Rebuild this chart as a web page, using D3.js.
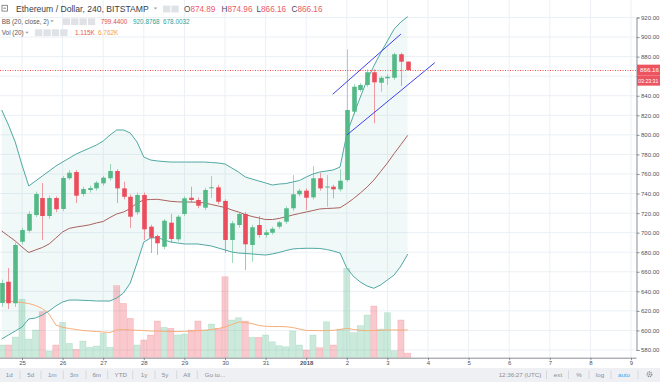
<!DOCTYPE html>
<html><head><meta charset="utf-8">
<script src="https://cdn.jsdelivr.net/npm/d3@7"></script>
<style>
html,body{margin:0;padding:0;background:#fff;overflow:hidden}
svg{display:block}
text{font-family:"Liberation Sans",Arial,sans-serif}
</style></head><body>
<svg id="c" width="660" height="382"></svg>
<script>
// ---- data (4h candles, ETH/USD Bitstamp) ----
const startTime = Date.UTC(2017, 11, 24, 12); // first visible candle
const stepHours = 4;
const open  = [628.1,649.8,627.8,690.7,702.0,718.0,735.4,717.0,735.4,724.2,755.6,762.0,739.5,743.6,745.3,750.4,755.6,763.0,745.3,736.7,720.8,738.5,706.1,696.6,685.6,710.2,693.2,719.1,735.7,733.4,725.5,745.9,746.3,732.4,692.5,707.8,719.1,687.4,707.8,697.6,699.9,706.1,711.2,724.9,739.2,742.9,736.1,755.6,747.0,747.0,744.3,753.8,823.7,845.9,851.0,864.0,853.3,857.8,858.4,882.4,874.89];
const high  = [652,663.8,690,705,722,742,750.8,738,737,758,764,764,747,748,753,758,770.2,765,752.1,739,741,741,708,698,714,719.1,718,737,747,736,746,757.9,749,734,712,721,721,708,717,703,706,712,727,758.9,745,745,768.1,761,758.9,749,764.8,887.5,852,853,867,867,860,862,884,884,874.96];
const low   = [624,622,624,688,700,716,692.5,714,721,722,754,730.3,737,741,743,748,753,730.3,734,704.7,718,692.5,679.2,677.1,683,690,691,717,731,725,723,735.4,729,679.2,669.0,705,661.8,670.3,695,695,698,704,709,722,737,723.2,734,743,726.5,735,742,752,821,844,849,811.8,844.1,851,856,849.9,866.16];
const close = [648.5,627.8,687.4,702.7,719.1,739.5,717.0,735.4,723.9,755.9,761.3,737.8,744.6,745.6,751.1,756.2,763.0,745.3,736.7,716.3,738.5,703.4,694.8,689.1,712.2,693.5,716.3,735.1,733.4,727.5,743.6,746.4,731.6,692.5,709.6,719.1,688.1,705.5,697.6,700.3,704.0,710.6,724.9,739.2,742.9,735.7,755.6,745.3,747.2,744.3,753.1,825.4,849.2,851.0,864.0,853.7,858.4,859.4,882.4,874.8,866.16];
const volume = [3.1,3.1,5.05,14.25,4.56,6.76,11.22,1.63,3.1,8.64,3.51,2.05,4.07,2.54,2.85,5.95,2.54,17.57,13.27,9.61,3.1,4.32,5.54,8.95,7.42,7.17,5.54,5.78,6.76,8.95,6.76,8.22,7.17,19.76,9.20,9.76,8.95,4.98,4.98,5.54,3.90,2.93,2.68,6.51,3.1,1.88,5.54,2.44,8.78,3.1,7.0,21.81,6.1,7.81,10.42,12.61,7.0,10.98,1.71,9.20,1.115];
const volMA = [14.08,13.83,13.59,13.47,13.22,12.74,12.0,10.66,7.98,7.42,7.12,6.88,6.64,6.51,6.39,6.27,6.15,6.76,6.88,6.76,6.69,6.64,6.51,6.51,6.44,6.39,6.39,6.44,6.51,6.59,6.69,6.88,7.12,7.49,8.10,8.71,8.59,8.34,7.86,7.66,7.61,7.61,7.56,7.37,7.0,6.64,6.64,6.59,6.64,6.69,6.88,7.17,6.88,6.69,6.59,6.64,6.69,6.76,6.76,6.76,6.762];
const bbUpper = [825.4,810.1,792.7,769.2,747.7,752.8,757.9,763.0,768.1,772.2,776.3,780.4,783.5,786.5,789.6,793.7,799.8,805.0,805.0,801.9,792.7,777.3,774.3,773.3,772.7,772.2,772.2,772.2,772.2,772.2,772.2,771.7,771.2,770.2,766.1,762.0,756.9,754.8,752.8,750.8,748.7,749.7,750.2,751.8,753.3,756.9,760.0,762.0,763.0,764.1,767.1,800.9,820.3,838.7,856.1,870.4,883.7,896.0,908.2,915.4,920.8768];
const bbBasis = [701.7,696.6,691.5,685.3,679.7,682.3,684.8,688.4,694.5,700.7,704.4,705.8,706.8,708.0,709.9,711.4,715.5,719.1,721.1,724.7,730.3,733.4,733.9,734.1,733.1,732.0,731.5,731.3,731.3,731.0,730.3,728.8,727.2,725.7,723.2,721.1,718.5,716.5,715.0,713.4,713.4,714.5,716.2,718.0,719.6,721.1,722.6,724.2,724.7,725.0,725.5,729.8,734.9,740.5,746.7,753.8,762.5,771.2,780.9,790.1,799.44];
const bbLower = [591.2,595.3,599.4,603.5,611.7,612.7,615.8,619.9,625.0,629.1,631.1,631.1,630.8,630.6,630.1,630.1,630.1,633.2,638.3,648.5,669.0,690.4,694.5,695.0,692.5,690.4,689.4,688.4,688.4,688.4,687.4,686.3,684.3,682.3,680.2,679.2,678.7,678.2,677.6,677.1,678.2,679.7,681.7,683.3,683.8,684.0,684.0,683.8,682.8,681.2,679.2,663.8,655.2,649.5,645.4,643.1,646.5,651.6,656.7,665.9,678.0032];
// drawn trend lines: [time, price] end points
const trendA = [[Date.UTC(2018,0,1,15,40), 841.5], [Date.UTC(2018,0,3,8), 903.1]];
const trendB = [[Date.UTC(2018,0,2,0), 799.8], [Date.UTC(2018,0,4,4), 873.8]];
const priceTicks = [580,600,620,640,660,680,700,720,740,760,780,800,820,840,860,880,900,920];
const lastPrice = 866.16;
const countdown = "03:23:31";
const toolbarLeft = ["1d","5d","1m","3m","6m","YTD","1y","5y","All","Go to..."];

// ---- layout ----
const svg = d3.select("#c");
const plotR = 636, plotB = 357.7;
const x = d3.scaleUtc().domain([new Date(Date.UTC(2017,11,25)), new Date(Date.UTC(2018,0,9))]).range([22, 631]);
const y = d3.scaleLinear().domain([580, 920]).range([350, 17.5]);
const yv = d3.scaleLinear().domain([0, 25]).range([plotB, plotB - 25/0.244]);
const times = open.map((_, i) => new Date(startTime + i*stepHours*3600e3));
const step = x(new Date(startTime + stepHours*3600e3)) - x(new Date(startTime));

svg.append("rect").attr("width",660).attr("height",382).attr("fill","#fff");
svg.append("defs").append("clipPath").attr("id","plot").append("rect")
  .attr("x",0).attr("y",0).attr("width",plotR).attr("height",plotB);
const g = svg.append("g").attr("clip-path","url(#plot)");

// grid
const dayTicks = x.ticks(d3.utcDay.every(1));
g.selectAll(".hg").data(priceTicks).join("line")
  .attr("x1",0).attr("x2",plotR).attr("y1",d=>y(d)).attr("y2",d=>y(d))
  .attr("stroke","#ebf0f5").attr("stroke-width",1);
g.selectAll(".vg").data(dayTicks).join("line")
  .attr("x1",d=>x(d)).attr("x2",d=>x(d)).attr("y1",0).attr("y2",plotB)
  .attr("stroke","#ebf0f5").attr("stroke-width",1);

// BB fill
const idx = d3.range(open.length);
g.append("path").datum(idx)
  .attr("d", d3.area().x(i=>x(times[i])).y0(i=>y(bbLower[i])).y1(i=>y(bbUpper[i])))
  .attr("fill","rgba(38,166,154,0.065)");

// volume
g.selectAll(".vb").data(idx).join("rect")
  .attr("x", i=>x(times[i]) - step/2 + 0.3)
  .attr("width", step - 0.6)
  .attr("y", i=>yv(volume[i]))
  .attr("height", i=>plotB - yv(volume[i]))
  .attr("fill", i=>close[i]>=open[i] ? "rgba(83,185,135,0.30)" : "rgba(235,77,92,0.30)")
  .attr("stroke", i=>close[i]>=open[i] ? "rgba(83,185,135,0.25)" : "rgba(235,77,92,0.25)")
  .attr("stroke-width",0.6);
g.append("path").datum(idx)
  .attr("d", d3.line().x(i=>x(times[i])).y(i=>yv(volMA[i])))
  .attr("fill","none").attr("stroke","#f7ae78").attr("stroke-width",1);

// BB lines
[[bbUpper,"#4fa8a3"],[bbLower,"#4fa8a3"],[bbBasis,"#a8625e"]].forEach(([arr,col])=>{
  g.append("path").datum(idx)
    .attr("d", d3.line().x(i=>x(times[i])).y(i=>y(arr[i])))
    .attr("fill","none").attr("stroke",col).attr("stroke-width",1);
});

// candles
const up="#53b987", dn="#eb4d5c";
g.selectAll(".wk").data(idx).join("line")
  .attr("x1",i=>Math.round(x(times[i]))+0.5).attr("x2",i=>Math.round(x(times[i]))+0.5)
  .attr("y1",i=>y(high[i])).attr("y2",i=>y(low[i]))
  .attr("stroke",i=>close[i]>=open[i]?up:dn).attr("stroke-opacity",0.55).attr("stroke-width",1);
g.selectAll(".bd").data(idx).join("rect")
  .attr("x",i=>Math.round(x(times[i]))+0.5-2.3).attr("width",4.6)
  .attr("y",i=>y(Math.max(open[i],close[i])))
  .attr("height",i=>Math.max(1, Math.abs(y(open[i])-y(close[i]))))
  .attr("fill",i=>close[i]>=open[i]?up:dn);

// trend lines
[trendA,trendB].forEach(t=>{
  g.append("line")
    .attr("x1",x(new Date(t[0][0]))).attr("y1",y(t[0][1]))
    .attr("x2",x(new Date(t[1][0]))).attr("y2",y(t[1][1]))
    .attr("stroke","#4040f0").attr("stroke-width",1);
});

// last price line
g.append("line").attr("x1",0).attr("x2",plotR)
  .attr("y1",Math.round(y(lastPrice))+0.5).attr("y2",Math.round(y(lastPrice))+0.5)
  .attr("stroke","#ef5350").attr("stroke-width",1).attr("stroke-dasharray","1,1.5");

// axes (tick labels hidden where the price marker covers them)
const ly = y(lastPrice);
const yAxis = svg.append("g").attr("transform",`translate(${plotR+0.5},0)`)
  .call(d3.axisRight(y).tickValues(priceTicks)
    .tickFormat(d=> Math.abs(y(d)-ly-5) < 11 ? "" : d.toFixed(2)).tickSize(3).tickPadding(1.5));
yAxis.select(".domain").attr("stroke","#8a8d96");
yAxis.selectAll(".tick line").attr("stroke","#8a8d96");
yAxis.selectAll("text").attr("font-size",6).attr("fill","#50535e")
  .attr("font-family","'Liberation Sans',Arial,sans-serif");

const xAxis = svg.append("g").attr("transform",`translate(0,${plotB})`)
  .call(d3.axisBottom(x).tickValues(dayTicks)
    .tickFormat(d=> (d.getUTCMonth()===0 && d.getUTCDate()===1) ? "2018" : String(d.getUTCDate()))
    .tickSize(2.5).tickPadding(1));
xAxis.select(".domain").attr("d",`M0,0.5H${plotR+0.5}`).attr("stroke","#8a8d96");
xAxis.selectAll(".tick line").attr("stroke","#8a8d96");
xAxis.selectAll("text").attr("font-size",6).attr("fill","#50535e")
  .attr("font-family","'Liberation Sans',Arial,sans-serif")
  .attr("font-weight",d=>(d.getUTCMonth()===0&&d.getUTCDate()===1)?"bold":null);

// price labels on axis
svg.append("rect").attr("x",plotR+1).attr("y",ly-5.5).attr("width",24).attr("height",11).attr("fill","#ee5360");
svg.append("text").attr("x",plotR+4).attr("y",ly+2.2).attr("font-size",6.2).attr("fill","#fff").text(lastPrice.toFixed(2));
svg.append("rect").attr("x",plotR+1).attr("y",ly+5.5).attr("width",24).attr("height",10).attr("fill","#ee5360");
svg.append("text").attr("x",plotR+2.2).attr("y",ly+12.5).attr("font-size",5.2).attr("fill","#fff").text(countdown);

// toolbar
svg.append("rect").attr("x",0).attr("y",368).attr("width",660).attr("height",14).attr("fill","#eef0f3");
const tbX = [9.3,30.7,52.3,74,96.7,120.7,144,165,186.7,215];
const tb = svg.append("g").attr("font-size",6.2).attr("fill","#8a8d96");
toolbarLeft.forEach((t,i)=>tb.append("text").attr("x",tbX[i]).attr("y",376.5).attr("text-anchor","middle").text(t));
[20,41,63.3,86,107.7,132.7,155,176.7,197.3,546.5,568.5,589,611,638].forEach(sx=>
  svg.append("line").attr("x1",sx).attr("x2",sx).attr("y1",370.5).attr("y2",379).attr("stroke","#cfd2d8").attr("stroke-width",0.8));
tb.append("text").attr("x",520).attr("y",376.5).attr("text-anchor","middle").text("12:36:27 (UTC)");
tb.append("text").attr("x",558).attr("y",376.5).attr("text-anchor","middle").text("ext");
tb.append("text").attr("x",579).attr("y",376.5).attr("text-anchor","middle").text("%");
tb.append("text").attr("x",600).attr("y",376.5).attr("text-anchor","middle").text("log");
tb.append("text").attr("x",624).attr("y",376.5).attr("text-anchor","middle").attr("fill","#3fa6f0").text("auto");
// gear icon
svg.append("circle").attr("cx",649.5).attr("cy",374.3).attr("r",2.3).attr("fill","none").attr("stroke","#8a8d96").attr("stroke-width",1.3).attr("stroke-dasharray","1.2,0.6");
svg.append("circle").attr("cx",649.5).attr("cy",374.3).attr("r",0.9).attr("fill","#8a8d96");

// legend
const red="#ee5b66";
function icons(x0, yy, n){
  for(let k=0;k<n;k++){
    svg.append("rect").attr("x",x0+k*8.4).attr("y",yy).attr("width",7.3).attr("height",6.8).attr("fill","#dfe2e7");
  }
}
function caret(cx, cy){
  svg.append("path").attr("d",`M${cx-1.8},${cy-1}L${cx+1.8},${cy-1}L${cx},${cy+1}Z`).attr("fill","#a0a3ab");
}
// line 1
svg.append("rect").attr("x",2).attr("y",5.3).attr("width",5.4).attr("height",5.8).attr("fill","none").attr("stroke","#6f727c").attr("stroke-width",0.8);
svg.append("line").attr("x1",3.3).attr("x2",6.1).attr("y1",8.2).attr("y2",8.2).attr("stroke","#6f727c").attr("stroke-width",0.8);
svg.append("text").attr("x",16).attr("y",12).attr("font-size",8.6).attr("fill","#3b3e48").text("Ethereum / Dollar, 240, BITSTAMP");
caret(155.5,8.5);
icons(163,5.6,2);
const ohlc = [["O",open[60],184],["H",high[60],221.5],["L",low[60],256.5],["C",close[60],291.5]];
ohlc.forEach(([k,v,xx])=>{
  const t = svg.append("text").attr("x",xx).attr("y",12).attr("font-size",8.2);
  t.append("tspan").attr("fill","#4a4d57").text(k);
  t.append("tspan").attr("fill",red).text(v.toFixed(2));
});
// line 2
svg.append("text").attr("x",1.7).attr("y",23.6).attr("font-size",6.4).attr("fill","#555862").text("BB (20, close, 2)");
caret(52,21.3);
icons(62.7,18.3,4);
svg.append("text").attr("x",100.7).attr("y",23.6).attr("font-size",6.4).attr("fill","#d9505a").text(bbBasis[60].toFixed(4));
svg.append("text").attr("x",133).attr("y",23.6).attr("font-size",6.4).attr("fill","#2e9f98").text(bbUpper[60].toFixed(4));
svg.append("text").attr("x",163).attr("y",23.6).attr("font-size",6.4).attr("fill","#2e9f98").text(bbLower[60].toFixed(4));
// line 3
svg.append("text").attr("x",1.7).attr("y",35).attr("font-size",6.4).attr("fill","#555862").text("Vol (20)");
caret(27,32.7);
icons(35,29.3,4);
svg.append("text").attr("x",75).attr("y",35).attr("font-size",6.4).attr("fill","#ef5350").text(volume[60].toFixed(3)+"K");
svg.append("text").attr("x",98).attr("y",35).attr("font-size",6.4).attr("fill","#f39a52").text(volMA[60].toFixed(3)+"K");
</script>
</body></html>
